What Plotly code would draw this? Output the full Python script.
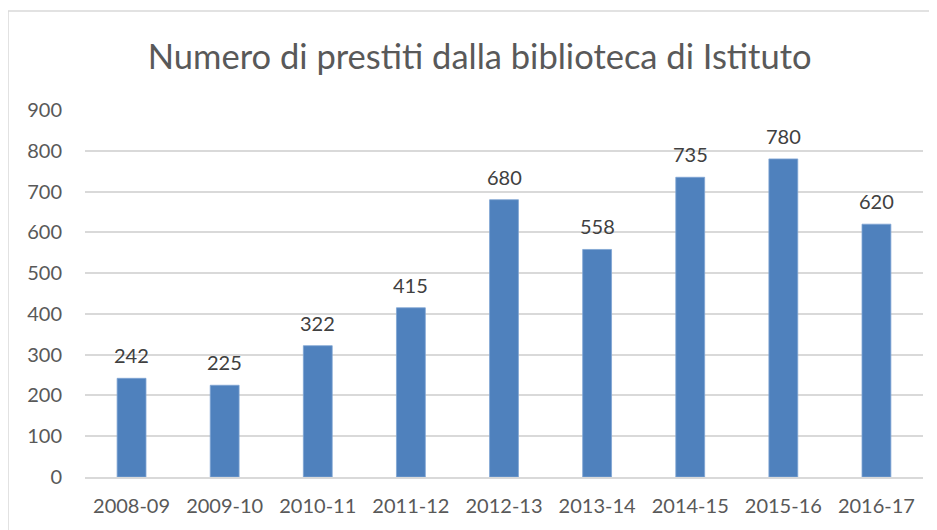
import plotly.graph_objects as go

categories = ["2008-09", "2009-10", "2010-11", "2011-12", "2012-13",
              "2013-14", "2014-15", "2015-16", "2016-17"]
values = [242, 225, 322, 415, 680, 558, 735, 780, 620]
y_ticks = [0, 100, 200, 300, 400, 500, 600, 700, 800, 900]
title_text = "Numero di prestiti dalla biblioteca di Istituto"

FONT = "Lato, 'Open Sans', sans-serif"

fig = go.Figure(go.Bar(
    x=categories, y=values,
    marker=dict(color="#4F81BD", line=dict(color="#7FA4D3", width=0.8)),
    cliponaxis=False,
))

annotations = [dict(x=c, y=v, xref="x", yref="y", text=str(v),
                    showarrow=False, yanchor="bottom", yshift=9,
                    font=dict(family=FONT, size=20, color="#404040"))
               for c, v in zip(categories, values)]

fig.update_layout(
    width=937, height=530,
    margin=dict(l=77, r=22, t=102, b=61),
    paper_bgcolor="white", plot_bgcolor="white",
    bargap=0.69,
    showlegend=False,
    title=dict(text=title_text, x=0.471, xref="paper", xanchor="center",
               y=0.9075, yref="container", yanchor="middle",
               font=dict(family=FONT, size=34.5, color="#595959")),
    xaxis=dict(type="category", showgrid=False, showline=True,
               linecolor="#D9D9D9", linewidth=1.5,
               ticks="", tickfont=dict(family=FONT, size=20, color="#595959"),
               ticklabelstandoff=10),
    yaxis=dict(range=[0, 900], tickvals=y_ticks, showgrid=True,
               gridcolor="#D9D9D9", gridwidth=1.5, zeroline=False,
               showline=False, ticks="",
               tickfont=dict(family=FONT, size=20, color="#595959"),
               ticklabelstandoff=22),
    annotations=annotations,
    shapes=[dict(type="rect", xref="paper", yref="paper",
                 x0=-77/838, x1=1.2, y0=-0.4, y1=1 + 99/367,
                 line=dict(color="#D9D9D9", width=1.5), fillcolor="rgba(0,0,0,0)",
                 layer="below")],
)

fig.write_html("out.html")
